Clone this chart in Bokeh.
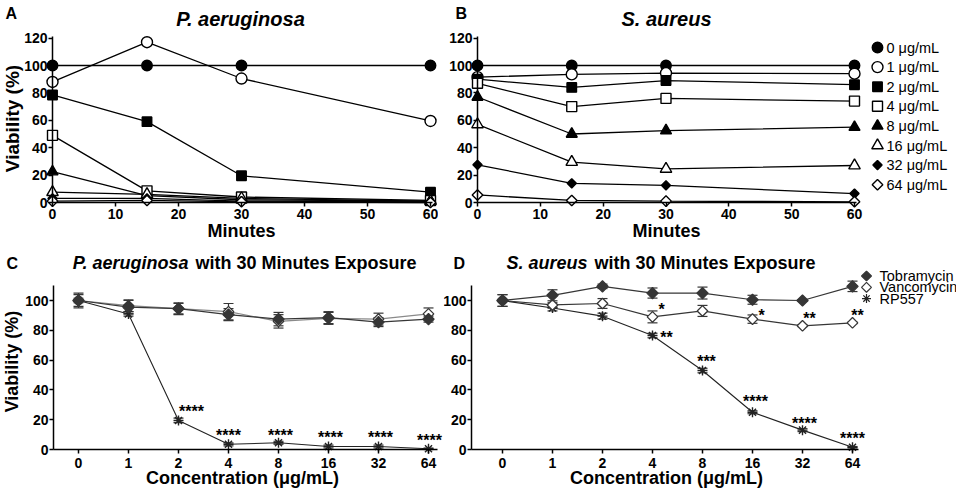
import numpy as np
from bokeh.plotting import figure
from bokeh.models import ColumnDataSource, Range1d, FixedTicker, Label, Whisker, TeeHead
from bokeh.layouts import row, column
from bokeh.embed import file_html
from bokeh.resources import INLINE
from bokeh.core.properties import value

FONT = "Liberation Sans"

# ---------------- data: panels A / B (viability % vs minutes) ----------------
minutes = [0, 15, 30, 60]
conc_series = ["0 μg/mL", "1 μg/mL", "2 μg/mL", "4 μg/mL",
               "8 μg/mL", "16 μg/mL", "32 μg/mL", "64 μg/mL"]

pa_0 = [100, 100, 100, 100]
pa_1 = [88, 117, 90.5, 59.5]
pa_2 = [78.5, 59, 19.5, 7.5]
pa_4 = [49, 8.5, 4, 1.5]
pa_8 = [22.5, 5, 2, 1]
pa_16 = [7.5, 6, 3, 1]
pa_32 = [3, 3, 1, 0.5]
pa_64 = [1, 1.5, 0.5, 0]

sa_0 = [100, 100, 100, 100]
sa_1 = [91.5, 93.5, 94.5, 94]
sa_2 = [90, 84, 89, 86]
sa_4 = [87, 70, 76, 74]
sa_8 = [77, 50, 52.5, 55]
sa_16 = [57, 29.5, 24.5, 27]
sa_32 = [27.5, 14, 12.5, 6.5]
sa_64 = [5.5, 1.5, 1, 0.5]

# ---------------- data: panels C / D (30 min exposure) ----------------
conc_ticks = ["0", "1", "2", "4", "8", "16", "32", "64"]
treatments = ["Tobramycin", "Vancomycin", "RP557"]

pc_tobra = [100, 95.5, 94.5, 90.5, 87.5, 88.5, 85.5, 87.5]
pc_tobra_err = [5, 4.5, 4, 4, 4.5, 4, 3, 2]
pc_vanco = [100, 96.5, 94.5, 92.5, 86, 88, 87.5, 91]
pc_vanco_err = [4, 4, 3.5, 5.5, 4.5, 4, 4, 4]
pc_rp557 = [100, 91, 19.5, 3.5, 4.5, 2, 2, 0.5]
pc_rp557_err = [1.5, 1.5, 1.5, 1, 1, 1, 1, 0.5]

sd_tobra = [100, 103.5, 109.5, 105, 105, 100.5, 100, 109.5]
sd_tobra_err = [4, 3.7, 1.5, 3.4, 4, 3, 0.5, 3.5]
sd_vanco = [100, 97, 98, 89, 93, 87.5, 83, 85]
sd_vanco_err = [4, 1.5, 3.3, 4, 3.7, 2.8, 0.5, 0.5]
sd_rp557 = [100, 95, 89.5, 76.5, 53, 25, 13, 1.5]
sd_rp557_err = [1, 2, 2, 1.5, 1.5, 1, 1, 0.5]

# significance marks
pc_rp557_sig_idx = [2, 3, 4, 5, 6, 7]
pc_rp557_sig = ["****", "****", "****", "****", "****", "****"]
sd_vanco_sig_idx = [3, 5, 6, 7]
sd_vanco_sig = ["*", "*", "**", "**"]
sd_rp557_sig_idx = [3, 4, 5, 6, 7]
sd_rp557_sig = ["**", "***", "****", "****", "****"]

# ---------------- layout (page pixels) ----------------
cfgA = dict(px0=52, kx=6.3, py0=202, ky=1.37)
cfgB = dict(px0=477, kx=377 / 60, py0=202, ky=1.37)
cfgC = dict(px0=78, kx=50, py0=449, ky=1.49)
cfgD = dict(px0=502, kx=50, py0=449, ky=1.49)


def X(c, px):
    return (px - c["px0"]) / c["kx"]


def Y(c, py):
    return (c["py0"] - py) / c["ky"]


def make_fig(c, fig_x0, fig_y0, width, height):
    p = figure(width=width, height=height, title=None,
               x_range=Range1d(X(c, fig_x0), X(c, fig_x0 + width)),
               y_range=Range1d(Y(c, fig_y0 + height), Y(c, fig_y0)),
               output_backend="svg", toolbar_location=None,
               min_border_left=0, min_border_right=0,
               min_border_top=0, min_border_bottom=0)
    p.outline_line_color = None
    p.grid.visible = False
    p.background_fill_color = "white"
    p.border_fill_color = "white"
    return p


def style_axis(ax, standoff):
    ax.axis_line_width = 1.5
    ax.axis_line_color = "black"
    ax.major_tick_line_width = 1.5
    ax.major_tick_line_color = "black"
    ax.major_tick_out = 4
    ax.major_tick_in = 0
    ax.minor_tick_out = 0
    ax.minor_tick_in = 0
    ax.major_label_text_font = FONT
    ax.major_label_text_font_size = "14px"
    ax.major_label_text_font_style = "bold"
    ax.major_label_text_color = "black"
    ax.major_label_standoff = standoff


def add_label(p, c, px, py, text, size, style="bold", align="center", angle=0.0):
    p.add_layout(Label(x=X(c, px), y=Y(c, py), text=text, text_font=FONT,
                       text_font_size=size, text_font_style=style, text_color="black",
                       text_align=align, text_baseline="middle", angle=angle))


marker_specs = [("circle", True, 10.5), ("circle", False, 11), ("square", True, 9.5),
                ("square", False, 10), ("triangle", True, 11), ("triangle", False, 11.5),
                ("diamond", True, 6.5), ("diamond", False, 7.5)]


def draw_marker(p, source, spec):
    kind, filled, size = spec
    fill = "black" if filled else "white"
    if kind == "diamond":
        p.scatter("x", "y", source=source, marker="square", angle=np.pi / 4, size=size,
                  fill_color=fill, line_color="black", line_width=1.4)
    else:
        p.scatter("x", "y", source=source, marker=kind, size=size,
                  fill_color=fill, line_color="black", line_width=1.4)


ROW1_H = 240
ROW2_H = 253


def time_panel(c, fig_x0, width, series, title, title_x, letter, letter_x, ylabel, legend):
    p = make_fig(c, fig_x0, 0, width, ROW1_H)
    p.xaxis.fixed_location = 0
    p.yaxis.fixed_location = 0
    p.xaxis.ticker = FixedTicker(ticks=[0, 10, 20, 30, 40, 50, 60])
    p.yaxis.ticker = FixedTicker(ticks=[0, 20, 40, 60, 80, 100, 120])
    p.xaxis.bounds = (0, 60.3)
    p.yaxis.bounds = (0, 121)
    style_axis(p.xaxis[0], 2)
    style_axis(p.yaxis[0], 1)
    for vals, spec in zip(series, marker_specs):
        src = ColumnDataSource(dict(x=minutes, y=vals))
        p.line("x", "y", source=src, line_color="black", line_width=1.3)
        draw_marker(p, src, spec)
    add_label(p, c, letter_x, 13, letter, "16px", align="left")
    add_label(p, c, title_x, 18, title, "20px", style="bold italic")
    add_label(p, c, c["px0"] + 189, 230, "Minutes", "18px")
    if ylabel:
        add_label(p, c, 11.5, 118, "Viability (%)", "19px", angle=np.pi / 2)
    if legend:
        ly = [47 + 19.6 * i for i in range(len(conc_series))]
        for py, spec in zip(ly, marker_specs):
            src = ColumnDataSource(dict(x=[X(c, 877)], y=[Y(c, py)]))
            draw_marker(p, src, spec)
        lsrc = ColumnDataSource(dict(x=[X(c, 886)] * len(conc_series),
                                     y=[Y(c, v) for v in ly], t=conc_series))
        p.text("x", "y", text="t", source=lsrc, text_font=value(FONT),
               text_font_size=value("14.5px"), text_baseline="middle", text_align="left",
               text_color="black")
    return p


pA = time_panel(cfgA, 0, 438, [pa_0, pa_1, pa_2, pa_4, pa_8, pa_16, pa_32, pa_64],
                "P. aeruginosa", 240, "A", 5, True, False)
pB = time_panel(cfgB, 438, 518, [sa_0, sa_1, sa_2, sa_4, sa_8, sa_16, sa_32, sa_64],
                "S. aureus", 666, "B", 455, False, True)

# ---------------- panels C / D ----------------
DARK = "#363636"
STAR_DROP = 2.5   # baseline below the visual centre of an asterisk, px


def conc_panel(c, fig_x0, width, axis_left, axis_right, tob, tob_e, van, van_e,
               rp, rp_e, van_line, sig_sets, title_it, title_split, letter, letter_x,
               ylabel, legend):
    p = make_fig(c, fig_x0, ROW1_H, width, ROW2_H)
    p.xaxis.fixed_location = 0
    p.yaxis.fixed_location = X(c, axis_left)
    p.xaxis.ticker = FixedTicker(ticks=list(range(len(conc_ticks))))
    p.xaxis.major_label_overrides = {i: t for i, t in enumerate(conc_ticks)}
    p.yaxis.ticker = FixedTicker(ticks=[0, 20, 40, 60, 80, 100])
    p.xaxis.bounds = (X(c, axis_left), X(c, axis_right))
    p.yaxis.bounds = (0, 110)
    style_axis(p.xaxis[0], 4)
    style_axis(p.yaxis[0], 1)
    idx = list(range(len(conc_ticks)))
    for vals, err in [(tob, tob_e), (van, van_e), (rp, rp_e)]:
        wsrc = ColumnDataSource(dict(x=idx, upper=[v + e for v, e in zip(vals, err)],
                                     lower=[v - e for v, e in zip(vals, err)]))
        p.add_layout(Whisker(source=wsrc, base="x", upper="upper", lower="lower",
                             dimension="height", line_color=DARK, line_width=1.2,
                             upper_head=TeeHead(size=10, line_color=DARK, line_width=1.2),
                             lower_head=TeeHead(size=10, line_color=DARK, line_width=1.2)))
    s_rp = ColumnDataSource(dict(x=idx, y=rp))
    s_tob = ColumnDataSource(dict(x=idx, y=tob))
    s_van = ColumnDataSource(dict(x=idx, y=van))
    p.line("x", "y", source=s_rp, line_color="#222222", line_width=1.1)
    p.line("x", "y", source=s_van, line_color=van_line, line_width=1.2)
    p.line("x", "y", source=s_tob, line_color=DARK, line_width=1.2)
    p.scatter("x", "y", source=s_rp, marker="asterisk", size=10, line_color="#222222",
              line_width=1.4)
    p.scatter("x", "y", source=s_van, marker="square", angle=np.pi / 4, size=7.5,
              fill_color="white", line_color=DARK, line_width=1.3)
    p.scatter("x", "y", source=s_tob, marker="square", angle=np.pi / 4, size=8,
              fill_color=DARK, line_color=DARK, line_width=1.2)
    for sig_idx, sig_txt, vals, offs in sig_sets:
        xs = [i + dx / c["kx"] for i, (dx, dy) in zip(sig_idx, offs)]
        ys = [vals[i] - (dy + STAR_DROP) / c["ky"] for i, (dx, dy) in zip(sig_idx, offs)]
        ssrc = ColumnDataSource(dict(x=xs, y=ys, t=sig_txt))
        p.text("x", "y", text="t", source=ssrc, text_font=value(FONT),
               text_font_size=value("16px"), text_font_style="bold", text_align="center",
               text_baseline="alphabetic", text_color="black")
    add_label(p, c, letter_x, 263, letter, "16px", align="left")
    add_label(p, c, title_split, 262, title_it, "18px", style="bold italic", align="right")
    add_label(p, c, title_split + 7, 262, "with 30 Minutes Exposure", "18px", align="left")
    add_label(p, c, c["px0"] + 164, 477, "Concentration (μg/mL)", "18px")
    if ylabel:
        add_label(p, c, 11.5, 361, "Viability (%)", "18px", angle=np.pi / 2)
    if legend:
        ly = [275.5 + 11.3 * i for i in range(len(treatments))]
        p.scatter([X(c, 866)], [Y(c, ly[0])], marker="square", angle=np.pi / 4, size=7,
                  fill_color=DARK, line_color=DARK, line_width=1.2)
        p.scatter([X(c, 866)], [Y(c, ly[1])], marker="square", angle=np.pi / 4, size=7,
                  fill_color="white", line_color=DARK, line_width=1.2)
        p.scatter([X(c, 866)], [Y(c, ly[2])], marker="asterisk", size=9,
                  line_color="#222222", line_width=1.2)
        lsrc = ColumnDataSource(dict(x=[X(c, 879)] * len(treatments),
                                     y=[Y(c, v) for v in ly], t=treatments))
        p.text("x", "y", text="t", source=lsrc, text_font=value(FONT),
               text_font_size=value("14.5px"), text_baseline="middle", text_align="left",
               text_color="black")
    return p


c_offs = [(13, -11), (0, -11), (2, -10), (2, -12), (2, -12), (1, -11)]
pC = conc_panel(cfgC, 0, 443, 53, 437, pc_tobra, pc_tobra_err, pc_vanco, pc_vanco_err,
                pc_rp557, pc_rp557_err, "#8a8a8a",
                [(pc_rp557_sig_idx, pc_rp557_sig, pc_rp557, c_offs)],
                "P. aeruginosa", 188, "C", 6, True, False)

dv_offs = [(9, -10), (9, -6), (7, -10), (5, -10)]
dr_offs = [(14, -1), (4, -12), (3, -13), (2, -9), (0, -11)]
pD = conc_panel(cfgD, 443, 513, 471, 858, sd_tobra, sd_tobra_err, sd_vanco, sd_vanco_err,
                sd_rp557, sd_rp557_err, DARK,
                [(sd_vanco_sig_idx, sd_vanco_sig, sd_vanco, dv_offs),
                 (sd_rp557_sig_idx, sd_rp557_sig, sd_rp557, dr_offs)],
                "S. aureus", 587, "D", 453, False, True)

layout = column(row(pA, pB), row(pC, pD))
open("out.html", "w").write(file_html(layout, INLINE))
